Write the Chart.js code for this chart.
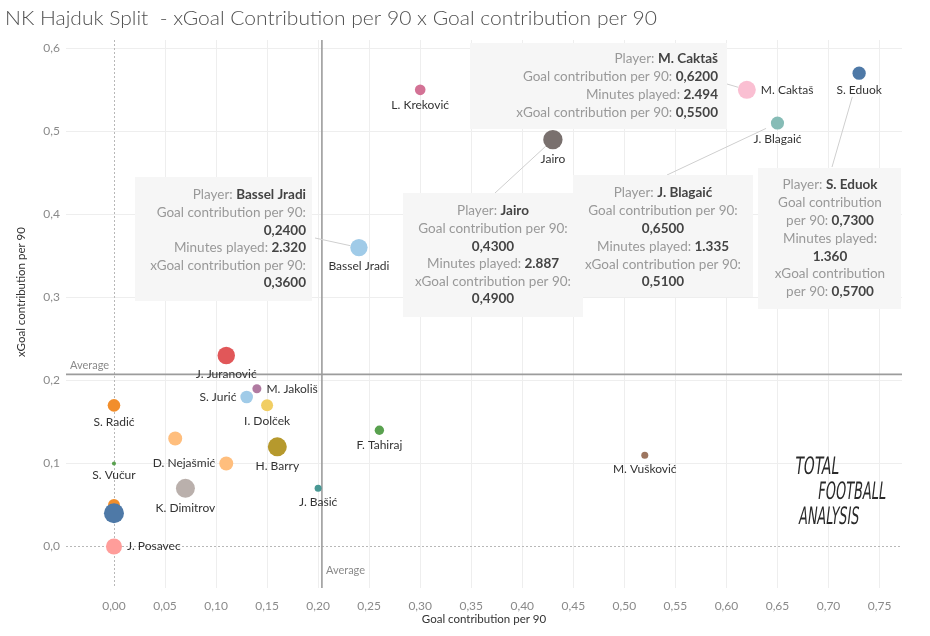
<!DOCTYPE html>
<html><head><meta charset="utf-8">
<script src="https://cdn.jsdelivr.net/npm/chart.js@4/dist/chart.umd.min.js"></script>
<style>html,body{margin:0;padding:0;background:#fff;}canvas{display:block;}</style>
</head><body>
<canvas id="c" width="930" height="636"></canvas>
<script>
// ---------- DATA ----------
const players = ['S. Eduok','M. Caktaš','J. Blagaić','Jairo','Bassel Jradi','L. Kreković','J. Juranović','M. Jakoliš','S. Jurić','I. Dolček','S. Radić','','D. Nejašmić','H. Barry','F. Tahiraj','M. Vušković','J. Bašić','S. Vučur','K. Dimitrov','','','J. Posavec'];
const goalContrib = [0.73,0.62,0.65,0.43,0.24,0.30,0.11,0.14,0.13,0.15,0.00,0.06,0.11,0.16,0.26,0.52,0.20,0.00,0.07,0.00,0.00,0.00];
const xGoalContrib = [0.57,0.55,0.51,0.49,0.36,0.55,0.23,0.19,0.18,0.17,0.17,0.13,0.10,0.12,0.14,0.11,0.07,0.10,0.07,0.05,0.04,0.00];
const minutesPlayed = [1360,2494,1335,2887,2320,870,2340,630,1225,1110,1225,1510,1510,2780,680,380,380,125,2780,1110,3090,1975];
const pointColors = ['#4e79a7','#fabfd2','#86bcb6','#79706e','#a0cbe8','#d37295','#e15759','#b07aa1','#a0cbe8','#f1ce63','#f28e2b','#ffbe7d','#ffbe7d','#b6992d','#59a14f','#9d7660','#499894','#59a14f','#bab0ac','#f28e2b','#4e79a7','#ff9d9a'];
const labelPlacement = ['below','right','below','below','below','below','below','right','left','below','below','none','left','below','below','below','below','below','below','none','none','right'];
const xTickValues = [0,0.05,0.10,0.15,0.20,0.25,0.30,0.35,0.40,0.45,0.50,0.55,0.60,0.65,0.70,0.75];
const xTickLabels = ['0,00','0,05','0,10','0,15','0,20','0,25','0,30','0,35','0,40','0,45','0,50','0,55','0,60','0,65','0,70','0,75'];
const yTickValues = [0,0.1,0.2,0.3,0.4,0.5,0.6];
const yTickLabels = ['0,0','0,1','0,2','0,3','0,4','0,5','0,6'];
const averageGoalContrib = 0.2037;
const averageXGoalContrib = 0.2073;

// ---------- LAYOUT / STYLE ----------
const FONT = 'Lato, "Open Sans", sans-serif';
const sizeScale = 0.18; // px radius per sqrt(minute)
const callouts = [
  {player:'M. Caktaš', layout:'wide', box:[470,43,257,86], align:'right', textX:718, firstRowY:59, rowStep:17.8, from:[727,84], gap:0},
  {player:'Jairo', layout:'wrap', box:[403,193,180,124], align:'center', textX:493, firstRowY:211, rowStep:17.6, from:[495,193], gap:0},
  {player:'J. Blagaić', layout:'wrap', box:[573,175,180,122], align:'center', textX:663, firstRowY:193, rowStep:17.8, from:[667,175], gap:6},
  {player:'S. Eduok', layout:'narrow', box:[758,168,143,141], align:'center', textX:830, firstRowY:185, rowStep:17.8, from:[832,167], gap:18},
  {player:'Bassel Jradi', layout:'wrap', box:[135,177,177,124], align:'right', textX:306, firstRowY:195, rowStep:17.6, from:[315,238], gap:0}
];

function fmt4(v){return v.toFixed(4).replace('.',',');}
function fmtMin(m){return String(m).replace(/\B(?=(\d{3})+(?!\d))/g,'.');}
function rowsFor(i, layout){
  const n=players[i], gc=fmt4(goalContrib[i]), xg=fmt4(xGoalContrib[i]), mp=fmtMin(minutesPlayed[i]);
  if(layout==='wide') return [['Player: ',n],['Goal contribution per 90: ',gc],['Minutes played: ',mp],['xGoal contribution per 90: ',xg]];
  if(layout==='wrap') return [['Player: ',n],['Goal contribution per 90:',''],['',gc],['Minutes played: ',mp],['xGoal contribution per 90:',''],['',xg]];
  return [['Player: ',n],['Goal contribution',''],['per 90: ',gc],['Minutes played:',''],['',mp],['xGoal contribution',''],['per 90: ',xg]];
}

const overlay = {
  id:'overlay',
  beforeDatasetsDraw(chart){
    const {ctx, chartArea:a, scales:{x,y}} = chart;
    ctx.save();
    const line=(x1,y1,x2,y2)=>{ctx.beginPath();ctx.moveTo(x1,y1);ctx.lineTo(x2,y2);ctx.stroke();};
    ctx.strokeStyle='#b8b8b8'; ctx.lineWidth=1; ctx.setLineDash([2,2]);
    const x0=Math.round(x.getPixelForValue(0))+0.5; line(x0,a.top,x0,a.bottom);
    const y0=Math.round(y.getPixelForValue(0))+0.5; line(a.left,y0,a.right,y0);
    ctx.setLineDash([]);
    ctx.strokeStyle='#9c9c9c'; ctx.lineWidth=1.6;
    const xa=x.getPixelForValue(averageGoalContrib); line(xa,a.top,xa,a.bottom);
    const ya=y.getPixelForValue(averageXGoalContrib); line(a.left,ya,a.right,ya);
    ctx.fillStyle='#8a8a8a'; ctx.font='11px '+FONT; ctx.textBaseline='alphabetic'; ctx.textAlign='left';
    ctx.fillText('Average', a.left+4, ya-5);
    ctx.fillText('Average', xa+4, a.bottom-14);
    ctx.restore();
  },
  afterDatasetsDraw(chart){
    const {ctx, scales:{x,y}} = chart;
    ctx.save();
    // data labels
    ctx.font='12px '+FONT; ctx.fillStyle='#333'; ctx.textBaseline='middle';
    players.forEach((p,i)=>{
      if(!p || labelPlacement[i]==='none') return;
      const px=x.getPixelForValue(goalContrib[i]), py=y.getPixelForValue(xGoalContrib[i]);
      const r=sizeScale*Math.sqrt(minutesPlayed[i]);
      if(labelPlacement[i]==='below'){ctx.textAlign='center';ctx.fillText(p,px,py+r+10);}
      else if(labelPlacement[i]==='right'){ctx.textAlign='left';ctx.fillText(p,px+r+5,py);}
      else {ctx.textAlign='right';ctx.fillText(p,px-r-4,py);}
    });
    // callouts
    callouts.forEach(c=>{
      const i=players.indexOf(c.player);
      const px=x.getPixelForValue(goalContrib[i]), py=y.getPixelForValue(xGoalContrib[i]);
      const r=sizeScale*Math.sqrt(minutesPlayed[i]);
      const dx=px-c.from[0], dy=py-c.from[1], L=Math.hypot(dx,dy);
      const ex=px-dx/L*(r+c.gap), ey=py-dy/L*(r+c.gap);
      ctx.strokeStyle='#cfcfcf'; ctx.lineWidth=1;
      ctx.beginPath(); ctx.moveTo(c.from[0],c.from[1]); ctx.lineTo(ex,ey); ctx.stroke();
      ctx.fillStyle='rgba(246,246,246,0.96)';
      ctx.fillRect(c.box[0],c.box[1],c.box[2],c.box[3]);
      const rows=rowsFor(i,c.layout);
      ctx.textBaseline='middle'; ctx.textAlign='left';
      rows.forEach((row,k)=>{
        const fl='13.5px '+FONT, fv='bold 13.5px '+FONT;
        ctx.font=fl; const wl=ctx.measureText(row[0]).width;
        ctx.font=fv; const wv=ctx.measureText(row[1]).width;
        const w=wl+wv;
        const sx = c.align==='right' ? c.textX-w : c.textX-w/2;
        const ry=c.firstRowY+k*c.rowStep;
        ctx.font=fl; ctx.fillStyle='#999999'; ctx.fillText(row[0],sx,ry);
        ctx.font=fv; ctx.fillStyle='#444444'; ctx.fillText(row[1],sx+wl,ry);
      });
    });
    ctx.restore();
  },
  afterDraw(chart){
    const {ctx, chartArea:a} = chart;
    ctx.save();
    ctx.fillStyle='#505050'; ctx.font='300 19px '+FONT; ctx.textAlign='left'; ctx.textBaseline='alphabetic';
    const title='NK Hajduk Split  - xGoal Contribution per 90 x Goal contribution per 90';
    const tw=ctx.measureText(title).width;
    ctx.save(); ctx.translate(5,25); ctx.scale(652/tw,1); ctx.fillText(title,0,0); ctx.restore();
    ctx.fillStyle='#333'; ctx.font='11.5px '+FONT; ctx.textAlign='center'; ctx.textBaseline='middle';
    ctx.fillText('Goal contribution per 90', (a.left+a.right)/2, 619);
    ctx.translate(21, 292); ctx.rotate(-Math.PI/2);
    ctx.fillText('xGoal contribution per 90', 0, 0);
    ctx.restore();
    // logo
    ctx.save();
    ctx.fillStyle='#2a2a2a'; ctx.textBaseline='middle'; ctx.textAlign='left';
    const logo=[['TOTAL',795,468,44],['FOOTBALL',818,493,68],['ANALYSIS',799,518,60]];
    logo.forEach(([t,lx,ly,w])=>{
      ctx.save(); ctx.font='24px "DejaVu Sans Condensed", "Liberation Sans Narrow", sans-serif';
      const mw=ctx.measureText(t).width; ctx.translate(lx,ly); ctx.transform(1,0,-0.12,1,0,0); ctx.scale(w/mw,1);
      ctx.fillText(t,0,0); ctx.restore();
    });
    ctx.restore();
  }
};

new Chart(document.getElementById('c').getContext('2d'), {
  type:'bubble',
  data:{datasets:[{
    data: players.map((p,i)=>({x:goalContrib[i], y:xGoalContrib[i], r:sizeScale*Math.sqrt(minutesPlayed[i])})),
    backgroundColor: pointColors, borderColor: pointColors, borderWidth:0, hoverRadius:0, clip:false
  }]},
  options:{
    responsive:false, animation:false, events:[],
    layout:{padding:{top:40,right:28,bottom:0,left:0}},
    plugins:{legend:{display:false}, tooltip:{enabled:false}, title:{display:false}},
    scales:{
      x:{type:'linear', bounds:'data', min:-0.047, max:0.772,
        afterBuildTicks:s=>{s.ticks=xTickValues.map(v=>({value:v}));},
        afterFit:s=>{s.height=48;},
        ticks:{padding:11, color:'#8a8a8a', font:{family:FONT,size:12}, maxRotation:0, autoSkip:false, callback:(v,i)=>xTickLabels[i]},
        grid:{color:c=>(c.tick && c.tick.value===0)?'rgba(0,0,0,0)':'#eeeeee', drawTicks:false},
        border:{display:false}},
      y:{type:'linear', bounds:'data', min:-0.05, max:0.61,
        afterBuildTicks:s=>{s.ticks=yTickValues.map(v=>({value:v}));},
        afterFit:s=>{s.width=66;},
        ticks:{padding:6, color:'#8a8a8a', font:{family:FONT,size:12}, autoSkip:false, callback:(v,i)=>yTickLabels[i]},
        grid:{color:c=>(c.tick && c.tick.value===0)?'rgba(0,0,0,0)':'#eeeeee', drawTicks:false},
        border:{display:false}}
    }
  },
  plugins:[overlay]
});
</script>
</body></html>
